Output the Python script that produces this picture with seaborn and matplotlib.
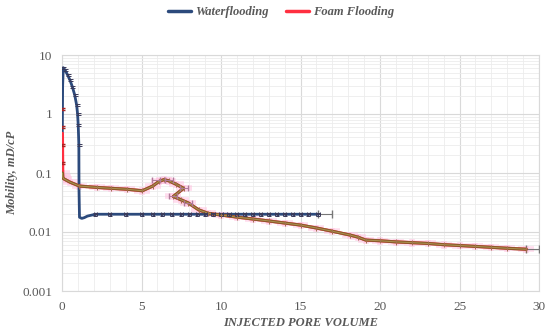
import matplotlib
matplotlib.use("Agg")
import matplotlib.pyplot as plt
import seaborn as sns
import pandas as pd
import numpy as np
from matplotlib.ticker import FixedLocator, NullFormatter, LogLocator

# ---- data ----
water_x = [0.0, 0.02, 0.04, 0.08, 0.2, 0.35, 0.5, 0.65, 0.8, 0.92, 0.98, 1.02, 1.06, 1.07, 1.07,
           1.1, 1.24, 1.4, 1.6, 2.1, 3.0, 4.0, 5.0, 5.7, 6.3, 6.9, 7.5, 8.0, 8.5, 9.0, 9.5, 10.0,
           10.5, 11.0, 11.5, 12.0, 12.5, 13.0, 13.5, 14.0, 14.5, 15.0, 15.5, 16.1]
water_y = [0.09, 0.5, 3.0, 6.1, 5.5, 4.6, 3.76, 2.9, 2.1, 1.42, 1.0, 0.65, 0.3, 0.08, 0.0195,
           0.0178, 0.017, 0.0175, 0.0186, 0.02, 0.02, 0.02, 0.02, 0.02, 0.02, 0.02, 0.02, 0.02,
           0.02, 0.02, 0.02, 0.02, 0.02, 0.02, 0.02, 0.02, 0.02, 0.02, 0.02, 0.02, 0.02, 0.02,
           0.02, 0.02]

foam_x = [0.03, 0.03, 0.03, 0.03, 0.03, 0.05, 0.1, 0.5, 1.1, 2.2, 3.1, 4.1, 5.05, 5.7, 6.1,
          6.4, 6.7, 7.2, 7.65, 7.0, 7.5, 7.95, 8.6, 9.2, 10.0, 11.0, 12.0, 13.0, 14.0, 15.0,
          16.0, 17.0, 18.1, 18.6, 19.1, 20.0, 21.0, 22.0, 23.0, 24.0, 25.0, 26.0, 27.0, 28.0,
          29.2]
foam_y = [1.2, 0.6, 0.3, 0.15, 0.1, 0.085, 0.08, 0.07, 0.06, 0.057, 0.055, 0.053, 0.05, 0.06,
          0.072, 0.077, 0.074, 0.064, 0.055, 0.040, 0.035, 0.031, 0.0237, 0.0207, 0.0194,
          0.0179, 0.0166, 0.0154, 0.0142, 0.0131, 0.0117, 0.0103, 0.0089, 0.0082, 0.0073,
          0.0071, 0.0068, 0.0066, 0.0064, 0.0061, 0.0059, 0.0057, 0.0055, 0.0053, 0.0051]

x_ticks = [0, 5, 10, 15, 20, 25, 30]
y_ticks = [0.001, 0.01, 0.1, 1, 10]
y_tick_labels = ["0.001", "0.01", "0.1", "1", "10"]

# ---- style ----
sns.set_theme(style="white")
plt.rcParams['font.family'] = ['Liberation Serif', 'DejaVu Serif']
grey = "#595959"

fig = plt.figure(figsize=(5.5, 3.32), dpi=100)
ax = fig.add_axes([62/550, 1 - 291/332, (539 - 62)/550, (291 - 55)/332])

water_col = "#2c4a7c"
foam_col = "#ff2f40"
brown = "#8b5a2b"

df_w = pd.DataFrame({"x": water_x, "y": water_y})
df_f = pd.DataFrame({"x": foam_x, "y": foam_y})

# foam error bars (pink)
fy = np.array(foam_y)
ax.errorbar(foam_x[4:], foam_y[4:], xerr=0.5, yerr=fy[4:] * 0.14, fmt='none',
            ecolor="#ffc2e0", elinewidth=4, capsize=0, alpha=0.55, zorder=2)

sns.lineplot(data=df_w, x="x", y="y", sort=False, color=water_col, linewidth=2.0,
             ax=ax, zorder=4, label="Waterflooding")
sns.lineplot(data=df_f, x="x", y="y", sort=False, color=foam_col, linewidth=2.2,
             ax=ax, zorder=5, label="Foam Flooding")
sns.lineplot(data=df_f.iloc[4:], x="x", y="y", sort=False, color=brown, linewidth=2.2,
             ax=ax, zorder=6, legend=False)
sns.lineplot(data=df_f.iloc[4:], x="x", y="y", sort=False, color="#b09a55", linewidth=0.6,
             ax=ax, zorder=7, legend=False)

# small error caps
wy = np.array(water_y)
ax.errorbar(water_x[3:13], water_y[3:13], yerr=wy[3:13] * 0.04, fmt='none',
            ecolor="#3a3a5a", elinewidth=0.6, capsize=1.8, capthick=0.7, zorder=8)
ax.errorbar(water_x[19:], water_y[19:], xerr=0.1, yerr=wy[19:] * 0.06, fmt='none',
            ecolor="#3a3a5a", elinewidth=0.6, capsize=1.6, capthick=0.7, zorder=8)
ax.errorbar([16.1], [0.02], xerr=[[0], [0.9]], fmt='none', ecolor="#777777",
            elinewidth=0.8, capsize=3, zorder=3)
ax.errorbar(foam_x[:4], foam_y[:4], yerr=fy[:4] * 0.04, fmt='none', ecolor="#aa2222",
            elinewidth=0.6, capsize=1.8, zorder=8)
ax.errorbar(foam_x[8:], foam_y[8:], yerr=fy[8:] * 0.1, fmt='none', ecolor="#a07050",
            elinewidth=0.7, capsize=0, zorder=8)
ax.errorbar([5.9, 6.7, 7.65, 7.0, 7.95], [0.075, 0.075, 0.055, 0.040, 0.031], xerr=0.25,
            fmt='none', ecolor="#b07a9a", elinewidth=0.7, capsize=2.2, zorder=8)
ax.errorbar([29.2], [0.0051], xerr=[[0], [0.8]], fmt='none', ecolor="#777777",
            elinewidth=0.8, capsize=3, zorder=3)

# axes
ax.set_yscale("log")
ax.set_xlim(0, 30)
ax.set_ylim(0.001, 10)
ax.set_xticks(x_ticks)
ax.set_xticklabels([str(t) for t in x_ticks])
ax.yaxis.set_major_locator(FixedLocator(y_ticks))
ax.set_yticklabels(y_tick_labels)
ax.yaxis.set_minor_locator(LogLocator(base=10, subs=np.arange(2, 10)))
ax.yaxis.set_minor_formatter(NullFormatter())
ax.xaxis.set_minor_locator(FixedLocator(np.arange(0, 31, 1)))
ax.grid(True, which="major", color="#d9d9d9", linewidth=0.8)
ax.grid(True, which="minor", color="#ececec", linewidth=0.6)
ax.tick_params(which="both", length=0, labelsize=9.5, labelcolor=grey, pad=7)
for s in ax.spines.values():
    s.set_color("#d9d9d9")
    s.set_linewidth(0.8)

ax.set_xlabel("INJECTED PORE VOLUME", fontsize=9, fontweight="bold", fontstyle="italic",
              color=grey, labelpad=3)
ax.set_ylabel("Mobility, mD/cP", fontsize=9, fontweight="bold", fontstyle="italic",
              color=grey, labelpad=4)
ax.yaxis.set_label_coords(-44/477, 0.5)

leg = ax.legend(loc="center", bbox_to_anchor=(0.459, 1.182), ncol=2,
                frameon=False, fontsize=9, handlelength=1.85, columnspacing=1.4,
                handletextpad=0.3, borderpad=0)
for t in leg.get_texts():
    t.set_color(grey)
    t.set_fontweight("bold")
    t.set_fontstyle("italic")
for h in leg.legend_handles:
    h.set_linewidth(2.5)

fig.savefig("out.png", dpi=100)
